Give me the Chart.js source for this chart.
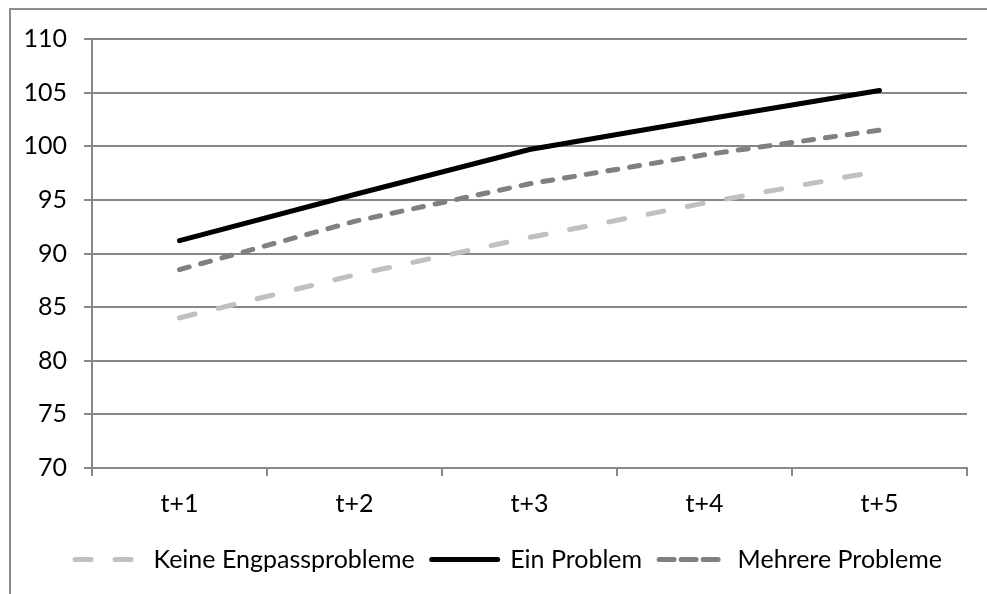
<!DOCTYPE html>
<html><head><meta charset="utf-8">
<script src="https://cdn.jsdelivr.net/npm/chart.js@4.4.1/dist/chart.umd.min.js"></script>
<style>
html,body{margin:0;padding:0;background:#fff;overflow:hidden}
#frame{position:absolute;left:9px;top:8px;width:1010px;height:620px;border:2px solid #8c8c8c;box-sizing:border-box}
#wrap{position:absolute;left:0;top:0;width:987px;height:594px}
</style></head><body>
<div id="frame"></div>
<div id="wrap"><canvas id="c" width="987" height="594"></canvas></div>
<script>
const categories = ['t+1', 't+2', 't+3', 't+4', 't+5'];
const keineEngpass = [84.0, 88.0, 91.5, 94.7, 97.7];
const einProblem = [91.2, 95.5, 99.7, 102.5, 105.2];
const mehrereProbleme = [88.5, 93.0, 96.5, 99.2, 101.5];
const yTicks = [70, 75, 80, 85, 90, 95, 100, 105, 110];

const FONT = 'Lato, "Noto Sans", sans-serif';
const GRID = '#888888';
const legendDash = { 0: [16, 24], 1: [], 2: [15, 7] };

const legendShift = {
  id: 'legendShift',
  afterLayout(chart) { if (chart.legend) { chart.legend.left += 50; } }
};

new Chart(document.getElementById('c'), {
  type: 'line',
  data: {
    labels: categories,
    datasets: [
      { label: 'Keine Engpassprobleme', data: keineEngpass, borderColor: '#c0c0c0', backgroundColor: '#c0c0c0',
        borderWidth: 5, borderDash: [16, 24], borderCapStyle: 'round', pointRadius: 0, tension: 0 },
      { label: 'Ein Problem', data: einProblem, borderColor: '#000000', backgroundColor: '#000000',
        borderWidth: 5, borderCapStyle: 'round', pointRadius: 0, tension: 0 },
      { label: 'Mehrere Probleme', data: mehrereProbleme, borderColor: '#808080', backgroundColor: '#808080',
        borderWidth: 5, borderDash: [10, 12], borderCapStyle: 'round', pointRadius: 0, tension: 0 }
    ]
  },
  plugins: [legendShift],
  options: {
    responsive: false,
    animation: false,
    layout: { padding: { left: 0, right: 20, top: 39, bottom: 12 } },
    plugins: {
      tooltip: { enabled: false },
      legend: {
        position: 'bottom',
        labels: {
          usePointStyle: true,
          pointStyle: 'line',
          pointStyleWidth: 66,
          padding: 17,
          color: '#000',
          font: { family: FONT, size: 25 },
          generateLabels(chart) {
            return chart.data.datasets.map((ds, i) => ({
              text: ds.label,
              fillStyle: ds.borderColor,
              strokeStyle: ds.borderColor,
              lineWidth: 5,
              lineCap: 'round',
              lineDash: legendDash[i],
              pointStyle: 'line',
              datasetIndex: i,
              hidden: false
            }));
          }
        }
      }
    },
    scales: {
      x: {
        offset: true,
        grid: { offset: true, drawOnChartArea: false, drawTicks: true, tickLength: 8, color: GRID, lineWidth: 2 },
        border: { display: true, color: GRID, width: 2 },
        ticks: { color: '#000', padding: 13, font: { family: FONT, size: 25 } },
        afterFit(s) { s.height = 62; }
      },
      y: {
        min: 70, max: 110,
        afterBuildTicks(s) { s.ticks = yTicks.map(v => ({ value: v })); },
        grid: { color: GRID, lineWidth: 2, tickLength: 8, drawTicks: true },
        border: { display: true, color: GRID, width: 2 },
        ticks: { color: '#000', padding: 17, font: { family: FONT, size: 25 } },
        afterFit(s) { s.width = 92; }
      }
    }
  }
});
</script>
</body></html>
